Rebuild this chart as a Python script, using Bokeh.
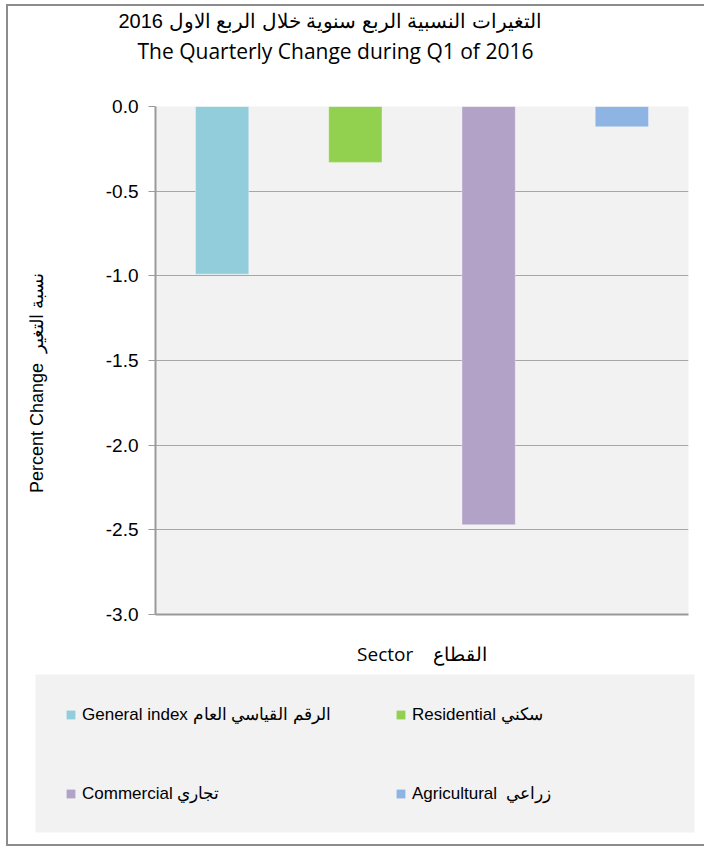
from bokeh.plotting import figure
from bokeh.layouts import column, row
from bokeh.models import (Range1d, FactorRange, FixedTicker, Legend, Title,
                          LegendItem, ColumnDataSource, PrintfTickFormatter)
from bokeh.embed import file_html
from bokeh.resources import INLINE

# ---- data ----
categories = ["General index", "Residential", "Commercial", "Agricultural"]
changes = [-0.99, -0.33, -2.47, -0.12]
legend_labels = ["General index الرقم القياسي العام", "Residential سكني",
                 "Commercial تجاري", "Agricultural  زراعي"]
colors = ["#92CDDC", "#92D050", "#B2A2C7", "#8DB4E2"]
y_ticks = [0.0, -0.5, -1.0, -1.5, -2.0, -2.5, -3.0]
title_ar = "\u202Bالتغيرات النسبية الربع سنوية خلال الربع الاول 2016\u202C"
title_en = "The Quarterly Change during Q1 of 2016"
x_title = "Sector \u00a0\u00a0\u00a0القطاع"
y_title = "Percent Change \u00a0نسبة التغير" + "\u00a0" * 9

src = ColumnDataSource(dict(x=categories, top=changes, color=colors))

# ---- main chart ----
p = figure(width=696, height=668,
           x_range=FactorRange(factors=categories, range_padding=0),
           y_range=Range1d(-3, 0),
           output_backend="svg", toolbar_location=None,
           min_border_left=147, min_border_right=16,
           min_border_top=100, min_border_bottom=60)
p.background_fill_color = "#F2F2F2"
p.border_fill_color = "white"
p.outline_line_color = None

p.vbar(x="x", top="top", bottom=0, width=0.4, fill_color="color",
       line_color="white", line_alpha=0.35, line_width=1, source=src)

p.yaxis.ticker = FixedTicker(ticks=y_ticks)
p.yaxis.formatter = PrintfTickFormatter(format="%.1f")
p.yaxis.axis_line_color = "#9a9a9a"
p.yaxis.axis_line_width = 2
p.yaxis.major_tick_line_color = "#9a9a9a"
p.yaxis.major_tick_out = 7
p.yaxis.major_tick_in = 0
p.yaxis.minor_tick_line_color = None
p.yaxis.major_label_standoff = 10
p.yaxis.major_label_text_font = "Liberation Sans"
p.yaxis.major_label_text_font_size = "19px"
p.yaxis.major_label_text_color = "#000000"
p.yaxis.axis_label = y_title
p.yaxis.axis_label_standoff = 56
p.yaxis.axis_label_text_font = "Liberation Sans"
p.yaxis.axis_label_text_font_size = "18px"
p.yaxis.axis_label_text_font_style = "normal"
p.yaxis.axis_label_text_color = "#000000"

p.xaxis.major_label_text_font_size = "0px"
p.xaxis.major_label_text_color = None
p.xaxis.major_label_standoff = 0
p.xaxis.major_tick_line_color = None
p.xaxis.major_tick_out = 0
p.xaxis.minor_tick_line_color = None
p.xaxis.axis_line_color = "#999999"
p.xaxis.axis_line_width = 2
p.xaxis.axis_label = x_title
p.xaxis.axis_label_standoff = 26
p.xaxis.axis_label_text_font = "Open Sans"
p.xaxis.axis_label_text_font_size = "19px"
p.xaxis.axis_label_text_font_style = "normal"
p.xaxis.axis_label_text_color = "#000000"

p.ygrid.ticker = FixedTicker(ticks=y_ticks)
p.ygrid.grid_line_color = "#A6A6A6"
p.xgrid.grid_line_color = None

# titles stacked above the frame (first added = nearest the frame)
p.add_layout(Title(text=" ", standoff=37, text_font_size="1px"), "above")
p.add_layout(Title(text=title_en, align="left", offset=-18, standoff=4,
                   text_font="Open Sans", text_font_size="21px",
                   text_font_style="normal", text_color="#000000"), "above")
p.add_layout(Title(text=title_ar, align="left", offset=-37, standoff=2,
                   text_font="Liberation Sans", text_font_size="20px",
                   text_font_style="normal", text_color="#000000"), "above")

# ---- legend panel ----
q = figure(width=696, height=170,
           x_range=FactorRange(factors=categories, range_padding=0),
           y_range=Range1d(1000, 1001),
           output_backend="svg", toolbar_location=None,
           x_axis_location=None, y_axis_location=None,
           min_border_left=27, min_border_right=10,
           min_border_top=0, min_border_bottom=12)
q.background_fill_color = "#F2F2F2"
q.border_fill_color = "white"
q.outline_line_color = None
q.grid.grid_line_color = None
r2 = q.vbar(x="x", top="top", bottom=0, width=0, fill_color="color",
            line_color=None, source=src)

items = [LegendItem(label=legend_labels[i], renderers=[r2], index=i)
         for i in range(len(categories))]
legend = Legend(items=items, orientation="horizontal", ncols=2, location="top_left",
                background_fill_alpha=0, border_line_color=None,
                label_text_font="Liberation Sans", label_text_font_size="17px",
                label_text_color="#000000",
                glyph_width=11, glyph_height=11, label_standoff=6, spacing=58,
                padding=31, label_width=255, label_height=20, margin=30)
q.add_layout(legend, "center")

layout = column(p, row(q, spacing=0), spacing=0,
                styles={"border-top": "2px solid #8c8c8c",
                        "border-left": "2px solid #8c8c8c",
                        "border-bottom": "2px solid #8c8c8c",
                        "margin-left": "6px", "margin-top": "4px"})

open("out.html", "w").write(file_html(layout, INLINE))
